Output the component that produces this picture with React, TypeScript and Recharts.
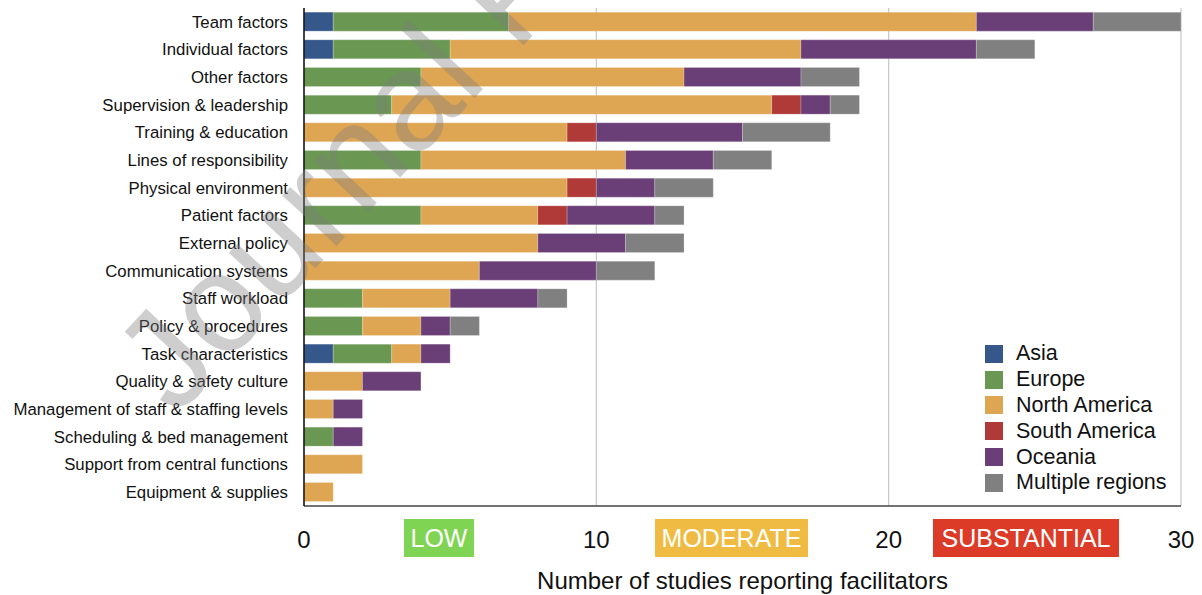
import { Bar, BarChart, CartesianGrid, XAxis, YAxis } from "recharts";

const FACTORS = [
  "Team factors",
  "Individual factors",
  "Other factors",
  "Supervision & leadership",
  "Training & education",
  "Lines of responsibility",
  "Physical environment",
  "Patient factors",
  "External policy",
  "Communication systems",
  "Staff workload",
  "Policy & procedures",
  "Task characteristics",
  "Quality & safety culture",
  "Management of staff & staffing levels",
  "Scheduling & bed management",
  "Support from central functions",
  "Equipment & supplies",
];

const ASIA = [1, 1, 0, 0, 0, 0, 0, 0, 0, 0, 0, 0, 1, 0, 0, 0, 0, 0];
const EUROPE = [6, 4, 4, 3, 0, 4, 0, 4, 0, 0, 2, 2, 2, 0, 0, 1, 0, 0];
const NORTH_AMERICA = [16, 12, 9, 13, 9, 7, 9, 4, 8, 6, 3, 2, 1, 2, 1, 0, 2, 1];
const SOUTH_AMERICA = [0, 0, 0, 1, 1, 0, 1, 1, 0, 0, 0, 0, 0, 0, 0, 0, 0, 0];
const OCEANIA = [4, 6, 4, 1, 5, 3, 2, 3, 3, 4, 3, 1, 1, 2, 1, 1, 0, 0];
const MULTIPLE = [3, 2, 2, 1, 3, 2, 2, 1, 2, 2, 1, 1, 0, 0, 0, 0, 0, 0];

const X_TICKS = [0, 10, 20, 30];

const SERIES = [
  { key: "Asia", values: ASIA, color: "#36578a" },
  { key: "Europe", values: EUROPE, color: "#6a9752" },
  { key: "North America", values: NORTH_AMERICA, color: "#dea553" },
  { key: "South America", values: SOUTH_AMERICA, color: "#b03a37" },
  { key: "Oceania", values: OCEANIA, color: "#6a3f78" },
  { key: "Multiple regions", values: MULTIPLE, color: "#7f807f" },
];

const LEVELS = [
  { label: "LOW", color: "#80d453", left: 404, width: 70 },
  { label: "MODERATE", color: "#f0bb42", left: 655, width: 153 },
  { label: "SUBSTANTIAL", color: "#dc3b27", left: 933, width: 186 },
];

const data = FACTORS.map((name, i) => {
  const row: Record<string, string | number> = { name };
  SERIES.forEach((s) => {
    row[s.key] = s.values[i];
  });
  return row;
});

const FONT = "'Liberation Sans', Arial, sans-serif";

function XTick({ x, y, payload }: any) {
  return (
    <text x={x} y={y + 34} textAnchor="middle" fontSize={24} fill="#111" fontFamily={FONT}>
      {payload.value}
    </text>
  );
}

export default function App() {
  return (
    <div style={{ position: "absolute", left: 0, top: 0, width: 1202, height: 595, background: "#fff" }}>
      <BarChart
        width={1202}
        height={595}
        data={data}
        layout="vertical"
        barCategoryGap="15%"
        margin={{ top: 8, right: 21, bottom: 0, left: 0 }}
      >
        <CartesianGrid horizontal={false} stroke="#c6c6c6" strokeWidth={1.2} />
        <XAxis
          type="number"
          domain={[0, 30]}
          ticks={X_TICKS}
          tickLine={false}
          tick={<XTick />}
          height={89}
          stroke="#444"
          strokeWidth={1.5}
          label={{
            value: "Number of studies reporting facilitators",
            position: "insideBottom",
            offset: 6,
            fontSize: 24,
            fill: "#111",
            fontFamily: FONT,
          }}
        />
        <YAxis
          type="category"
          dataKey="name"
          width={304}
          interval={0}
          tickLine={false}
          tickMargin={10}
          stroke="#111"
          strokeWidth={1.5}
          tick={{ fontSize: 16.8, fill: "#111", fontFamily: FONT }}
        />
        {SERIES.map((s) => (
          <Bar
            key={s.key}
            dataKey={s.key}
            stackId="region"
            fill={s.color}
            stroke="#ffffff"
            strokeOpacity={0.35}
            strokeWidth={0.6}
            isAnimationActive={false}
          />
        ))}
      </BarChart>
      <div
        style={{
          position: "absolute",
          left: 985,
          top: 341,
          fontFamily: FONT,
          fontSize: 21.5,
          color: "#111",
        }}
      >
        {SERIES.map((s) => (
          <div key={s.key} style={{ display: "flex", alignItems: "center", height: 25.8 }}>
            <span style={{ width: 18, height: 18, background: s.color, marginRight: 13 }} />
            <span>{s.key}</span>
          </div>
        ))}
      </div>
      {LEVELS.map((l) => (
        <div
          key={l.label}
          style={{
            position: "absolute",
            left: l.left,
            top: 519,
            width: l.width,
            height: 38,
            background: l.color,
            color: "#fff",
            fontFamily: FONT,
            fontSize: 25,
            lineHeight: "38px",
            textAlign: "center",
          }}
        >
          {l.label}
        </div>
      ))}
      <svg
        width={1202}
        height={595}
        style={{ position: "absolute", left: 0, top: 0, pointerEvents: "none" }}
      >
        <text
          x={176}
          y={418}
          transform="rotate(-47 176 418)"
          fontSize={140}
          fontFamily={FONT}
          fill="#7f7f7f"
          fillOpacity={0.38}
        >
          Journal Pre-proof
        </text>
      </svg>
    </div>
  );
}
